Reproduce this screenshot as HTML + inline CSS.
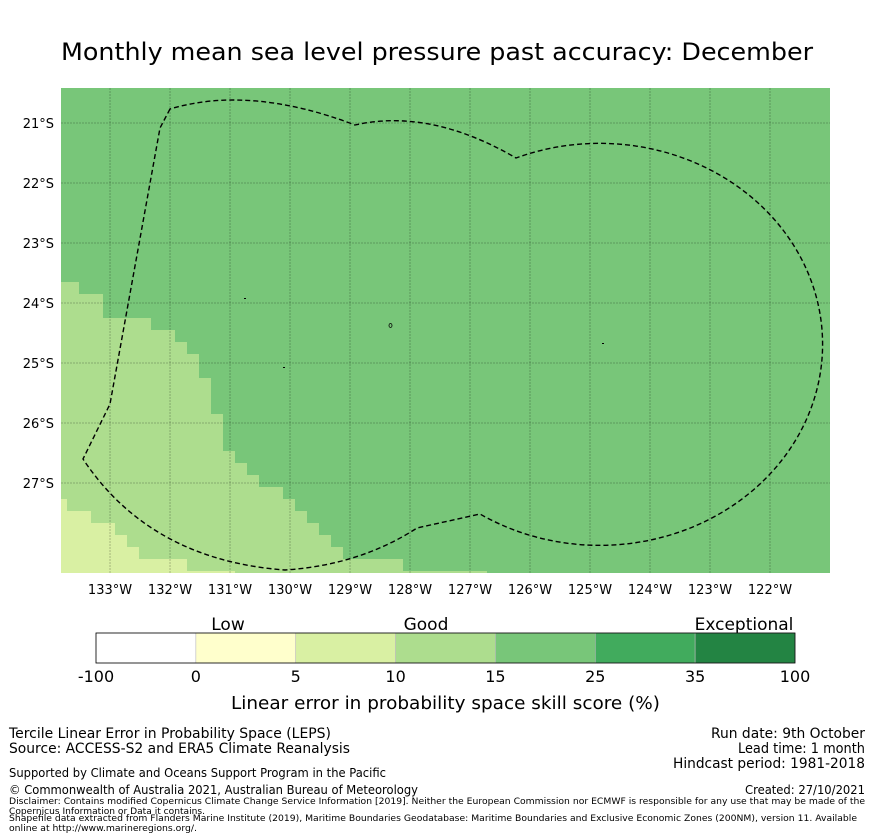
<!DOCTYPE html>
<html><head><meta charset="utf-8"><style>
body{margin:0;background:#fff;}
svg{display:block;font-family:"DejaVu Sans","Liberation Sans",sans-serif;}
</style></head><body>
<svg id="chart" width="873" height="839" viewBox="0 0 873 839" xmlns="http://www.w3.org/2000/svg">
<text x="61" y="60" font-size="24" textLength="752" lengthAdjust="spacingAndGlyphs">Monthly mean sea level pressure past accuracy: December</text>
<g>
<rect x="61" y="88" width="769" height="485" fill="#78c679"/>
<polygon fill="#addd8e" points="61,282 79,282 79,294 103,294 103,318 151,318 151,330 175,330 175,342 187,342 187,354 199,354 199,378 211,378 211,414 223,414 223,451 235,451 235,463 247,463 247,475 259,475 259,487 283,487 283,499 295,499 295,511 307,511 307,523 319,523 319,535 331,535 331,547 343,547 343,559 403,559 403,571 487,571 487,573 61,573"/>
<polygon fill="#d9f0a3" points="61,499 67,499 67,511 91,511 91,523 115,523 115,535 127,535 127,547 139,547 139,559 187,559 187,571 235,571 235,573 61,573"/>
<g id="grid"></g>
<path fill="none" stroke="#000" stroke-width="1.4" stroke-dasharray="5,3" d="M170,109 L160,128 L110,404 L83,459 Q150,560 285,570 Q360,565 417,528 L480,514 A223 201 0 1 0 516,158 Q430,108 355,125 Q250,85 170,109 Z"/>
<g fill="#000">
<rect x="244" y="298" width="2" height="1"/><ellipse cx="390.5" cy="325.5" rx="1.5" ry="2" fill="none" stroke="#000" stroke-width="0.8"/><rect x="283" y="367" width="2" height="1"/><rect x="602" y="343" width="2" height="1"/>
</g>
<g id="ticks" font-size="13"></g>
</g>
<g>
<text x="228" y="630" font-size="17" text-anchor="middle">Low</text>
<text x="426" y="630" font-size="17" text-anchor="middle">Good</text>
<text x="744" y="630" font-size="17" text-anchor="middle">Exceptional</text>
<g id="cbar"></g>
<text x="231" y="709" font-size="18" textLength="429" lengthAdjust="spacingAndGlyphs">Linear error in probability space skill score (%)</text>
</g>
<g font-size="14">
<text x="9" y="738" textLength="322" lengthAdjust="spacingAndGlyphs">Tercile Linear Error in Probability Space (LEPS)</text>
<text x="9" y="753" textLength="341" lengthAdjust="spacingAndGlyphs">Source: ACCESS-S2 and ERA5 Climate Reanalysis</text>
<text x="865" y="738" text-anchor="end" textLength="154" lengthAdjust="spacingAndGlyphs">Run date: 9th October</text>
<text x="865" y="753" text-anchor="end" textLength="127" lengthAdjust="spacingAndGlyphs">Lead time: 1 month</text>
<text x="865" y="768" text-anchor="end" textLength="192" lengthAdjust="spacingAndGlyphs">Hindcast period: 1981-2018</text>
<text x="9" y="777" font-size="12.5" textLength="377" lengthAdjust="spacingAndGlyphs">Supported by Climate and Oceans Support Program in the Pacific</text>
<text x="9" y="794" font-size="12.5" textLength="409" lengthAdjust="spacingAndGlyphs">© Commonwealth of Australia 2021, Australian Bureau of Meteorology</text>
<text x="865" y="794" font-size="12.5" text-anchor="end" textLength="120" lengthAdjust="spacingAndGlyphs">Created: 27/10/2021</text>
<text x="9" y="804" font-size="9" textLength="856" lengthAdjust="spacingAndGlyphs">Disclaimer: Contains modified Copernicus Climate Change Service Information [2019]. Neither the European Commission nor ECMWF is responsible for any use that may be made of the</text>
<text x="9" y="814" font-size="9" textLength="196" lengthAdjust="spacingAndGlyphs">Copernicus Information or Data it contains.</text>
<text x="9" y="821" font-size="9" textLength="848" lengthAdjust="spacingAndGlyphs">Shapefile data extracted from Flanders Marine Institute (2019), Maritime Boundaries Geodatabase: Maritime Boundaries and Exclusive Economic Zones (200NM), version 11. Available</text>
<text x="9" y="831" font-size="9" textLength="188" lengthAdjust="spacingAndGlyphs">online at http://www.marineregions.org/.</text>
</g>
</svg>
<script>
const lonTicks = [-133,-132,-131,-130,-129,-128,-127,-126,-125,-124,-123,-122];
const latTicks = [-21,-22,-23,-24,-25,-26,-27];
const cbarBounds = [-100,0,5,10,15,25,35,100];
const cbarColors = ["#ffffff","#ffffcc","#d9f0a3","#addd8e","#78c679","#41ab5d","#238443"];
const NS="http://www.w3.org/2000/svg";
const x0=61,x1=830,y0=88,y1=573,lonMin=-133.817,lonMax=-121,latMax=-20.417,latMin=-28.5;
const xs=v=>x0+(v-lonMin)/(lonMax-lonMin)*(x1-x0);
const ys=v=>y0+(latMax-v)/(latMax-latMin)*(y1-y0);
function mk(t,a,p){const e=document.createElementNS(NS,t);for(const k in a)e.setAttribute(k,a[k]);p.appendChild(e);return e;}
const grid=document.getElementById('grid'),ticks=document.getElementById('ticks');
lonTicks.forEach(v=>{const x=xs(v);
 const l=mk('line',{x1:x,x2:x,y1:y0,y2:y1,stroke:'rgba(0,0,0,0.3)','stroke-width':0.8,'stroke-dasharray':'2,1'},grid);
 
 
 const t=mk('text',{x:x,y:594,'text-anchor':'middle'},ticks);t.textContent=Math.abs(v)+'°W';
 
 });
latTicks.forEach(v=>{const y=ys(v);
 const l=mk('line',{x1:x0,x2:x1,y1:y,y2:y,stroke:'rgba(0,0,0,0.3)','stroke-width':0.8,'stroke-dasharray':'2,1'},grid);
 
 
 const t=mk('text',{x:54,y:y+5,'text-anchor':'end'},ticks);t.textContent=Math.abs(v)+'°S';
 
 });
const cb=document.getElementById('cbar');
const cx0=96,cx1=795,n=cbarColors.length,w=(cx1-cx0)/n;
cbarColors.forEach((c,i)=>{const r=mk('rect',{x:cx0+i*w,y:633,width:w,height:30,fill:c,stroke:'#bbb','stroke-width':0.6},cb);
 
 });
mk('rect',{x:cx0,y:633,width:cx1-cx0,height:30,fill:'none',stroke:'#000','stroke-width':0.8},cb);
cbarBounds.forEach((b,i)=>{const t=mk('text',{x:cx0+i*w,y:682,'font-size':16,'text-anchor':'middle'},cb);t.textContent=b;
 
 });
</script>
</body></html>
